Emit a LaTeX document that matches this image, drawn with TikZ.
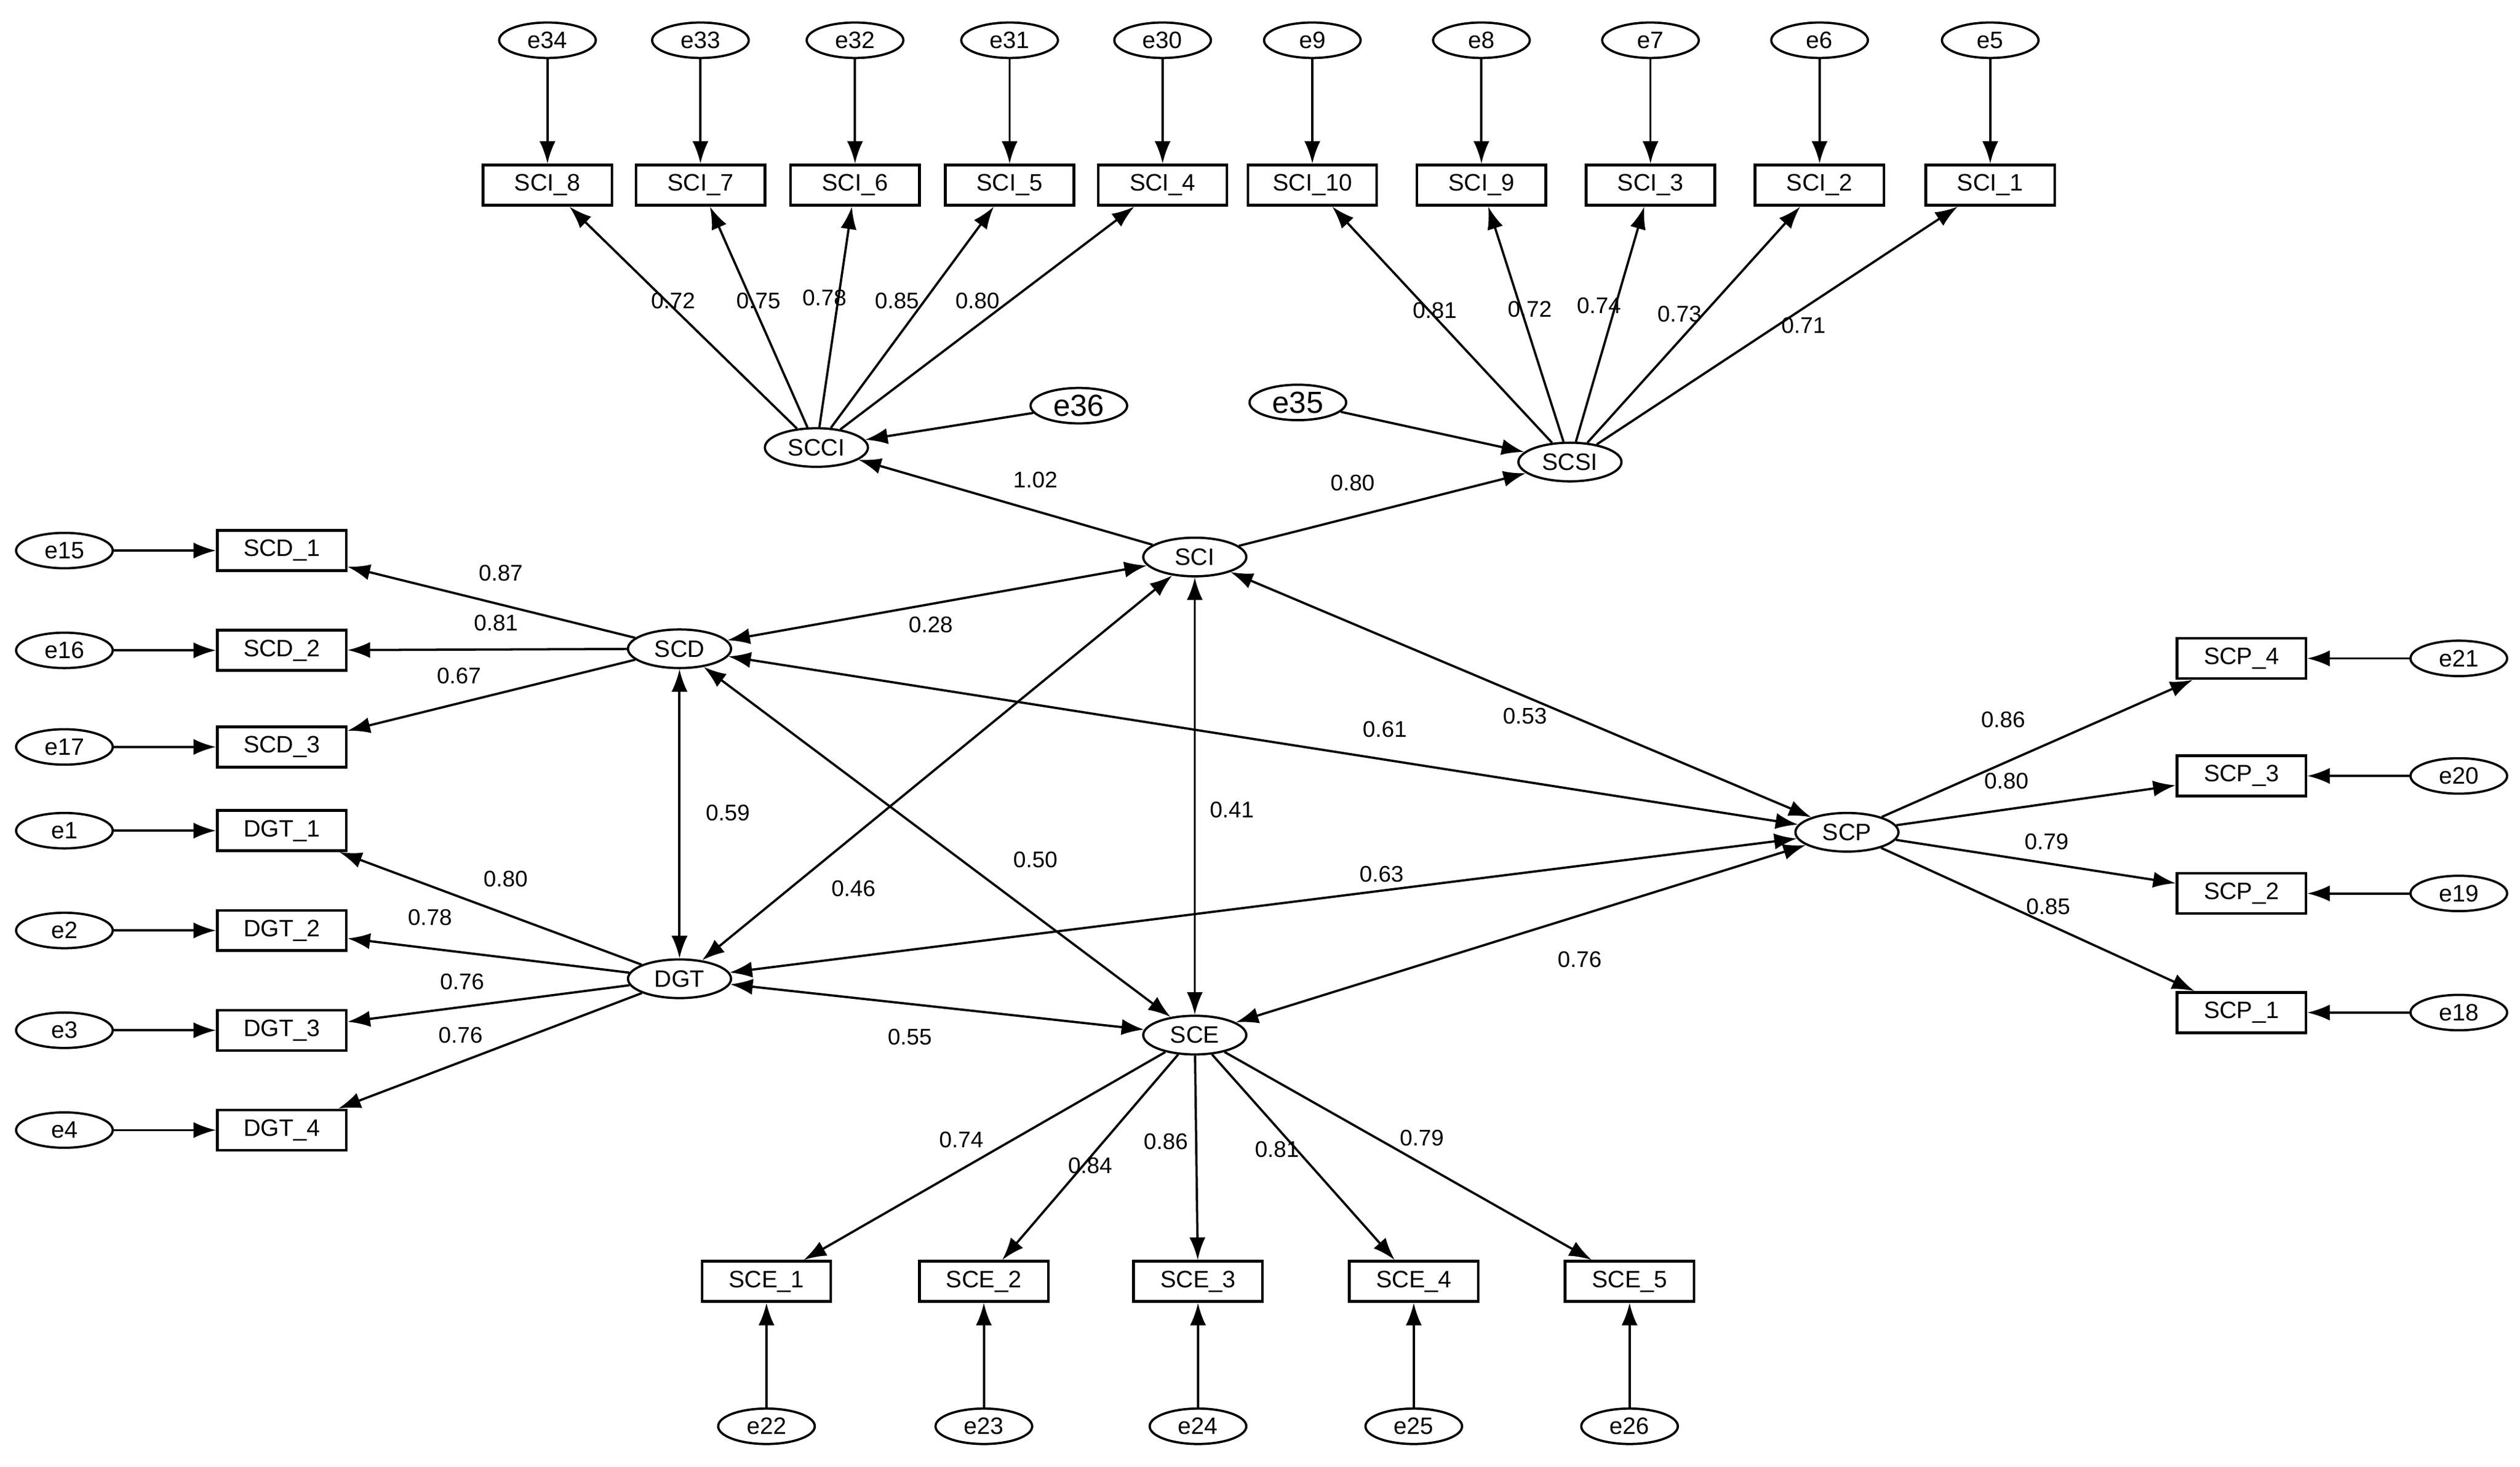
\documentclass[tikz,border=0pt]{standalone}
\usepackage{fontspec}
\setmainfont{Liberation Sans}
\usetikzlibrary{arrows.meta,shapes.geometric}
\begin{document}
\begin{tikzpicture}[x=0.5mm,y=-0.5mm,
  font=\fontsize{21}{24}\selectfont,
  ov/.style={draw,line width=2pt,ellipse,minimum width=30mm,minimum height=11mm,inner sep=0pt},
  lv/.style={draw,line width=2pt,ellipse,minimum width=32mm,minimum height=12mm,inner sep=0pt},
  bx/.style={draw,line width=2.4pt,rectangle,minimum width=40mm,minimum height=12.5mm,inner sep=0pt},
  ar/.style={-{Latex[length=7mm,width=5mm]},line width=2pt},
  dar/.style={{Latex[length=7mm,width=5mm]}-{Latex[length=7mm,width=5mm]},line width=2pt},
  lb/.style={font=\fontsize{20}{23}\selectfont,inner sep=1pt}]
\useasboundingbox (0,0) rectangle (1565,911);
% latent
\node[lv] (SCCI) at (507,278) {SCCI};
\node[lv] (SCSI) at (975,287) {SCSI};
\node[lv] (SCI) at (742,346) {SCI};
\node[lv] (SCD) at (422,403) {SCD};
\node[lv] (DGT) at (422,608) {DGT};
\node[lv] (SCE) at (742,643) {SCE};
\node[lv] (SCP) at (1147,517) {SCP};
\node[ov,font=\fontsize{27}{30}\selectfont] (e36) at (670,252) {e36};
\node[ov,font=\fontsize{27}{30}\selectfont] (e35) at (806,250) {e35};
\draw[ar] (e36) -- (SCCI);
\draw[ar] (e35) -- (SCSI);
\draw[ar] (SCI) -- (SCCI);
\draw[ar] (SCI) -- (SCSI);
\node[lb] at (643,298) {1.02};
\node[lb] at (840,300) {0.80};
% top
\foreach \n/\e/\x/\l/\lx/\ly/\src in {8/34/340/0.72/418/187/SCCI,7/33/435/0.75/471/187/SCCI,6/32/531/0.78/512/185/SCCI,5/31/627/0.85/557/187/SCCI,4/30/722/0.80/607/187/SCCI,10/9/815/0.81/891/193/SCSI,9/8/920/0.72/950/192/SCSI,3/7/1025/0.74/993/190/SCSI,2/6/1130/0.73/1043/195/SCSI,1/5/1236/0.71/1120/202/SCSI}{
  \node[bx] (SCI\n) at (\x,115) {SCI\_\n};
  \node[ov] (e\e) at (\x,25) {e\e};
  \draw[ar] (e\e) -- (SCI\n);
  \draw[ar] (\src) -- (SCI\n);
  \node[lb] at (\lx,\ly) {\l};
}
% left
\foreach \nm/\lab/\e/\y/\l/\lx/\ly/\src in {SCDa/SCD\_1/15/342/0.87/311/356/SCD,SCDb/SCD\_2/16/404/0.81/308/387/SCD,SCDc/SCD\_3/17/464/0.67/285/420/SCD,DGTa/DGT\_1/1/516/0.80/314/546/DGT,DGTb/DGT\_2/2/578/0.78/267/570/DGT,DGTc/DGT\_3/3/640/0.76/287/610/DGT,DGTd/DGT\_4/4/702/0.76/286/643/DGT}{
  \node[bx] (\nm) at (175,\y) {\lab};
  \node[ov] (e\e) at (40,\y) {e\e};
  \draw[ar] (e\e) -- (\nm);
  \draw[ar] (\src) -- (\nm);
  \node[lb] at (\lx,\ly) {\l};
}
% right
\foreach \k/\e/\y/\l/\lx/\ly in {4/21/409/0.86/1244/447,3/20/482/0.80/1246/485,2/19/555/0.79/1271/523,1/18/629/0.85/1272/563}{
  \node[bx] (SCP\k) at (1392,\y) {SCP\_\k};
  \node[ov] (e\e) at (1527,\y) {e\e};
  \draw[ar] (e\e) -- (SCP\k);
  \draw[ar] (SCP) -- (SCP\k);
  \node[lb] at (\lx,\ly) {\l};
}
% bottom
\foreach \k/\e/\x/\l/\lx/\ly in {1/22/476/0.74/597/708,2/23/611/0.84/677/724,3/24/744/0.86/724/709,4/25/878/0.81/793/714,5/26/1012/0.79/883/707}{
  \node[bx] (SCE\k) at (\x,796) {SCE\_\k};
  \node[ov] (e\e) at (\x,886) {e\e};
  \draw[ar] (e\e) -- (SCE\k);
  \draw[ar] (SCE) -- (SCE\k);
  \node[lb] at (\lx,\ly) {\l};
}
% correlations
\draw[dar] (SCI) -- (SCD);
\draw[dar] (SCI) -- (DGT);
\draw[dar] (SCI) -- (SCE);
\draw[dar] (SCI) -- (SCP);
\draw[dar] (SCD) -- (DGT);
\draw[dar] (SCD) -- (SCE);
\draw[dar] (SCD) -- (SCP);
\draw[dar] (DGT) -- (SCE);
\draw[dar] (DGT) -- (SCP);
\draw[dar] (SCE) -- (SCP);
\node[lb] at (578,388) {0.28};
\node[lb] at (860,453) {0.61};
\node[lb] at (947,445) {0.53};
\node[lb] at (452,505) {0.59};
\node[lb] at (765,503) {0.41};
\node[lb] at (530,552) {0.46};
\node[lb] at (643,534) {0.50};
\node[lb] at (858,543) {0.63};
\node[lb] at (565,644) {0.55};
\node[lb] at (981,596) {0.76};
\end{tikzpicture}
\end{document}
